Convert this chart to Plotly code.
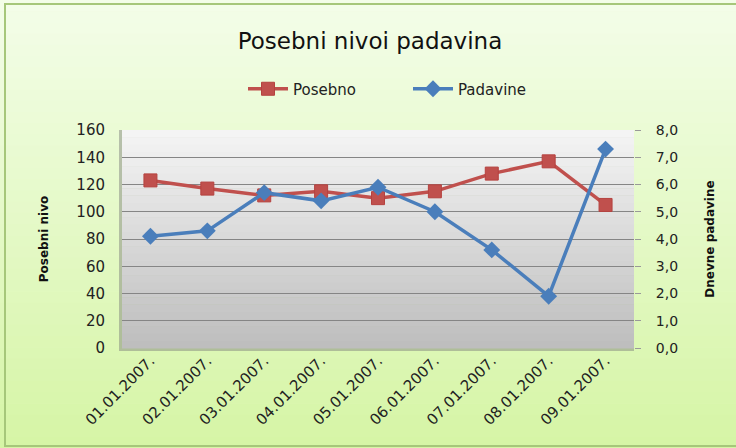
import plotly.graph_objects as go

dates = ["01.01.2007.", "02.01.2007.", "03.01.2007.", "04.01.2007.", "05.01.2007.",
         "06.01.2007.", "07.01.2007.", "08.01.2007.", "09.01.2007."]
posebno = [123, 117, 112, 115, 110, 115, 128, 137, 105]
padavine = [4.1, 4.3, 5.7, 5.4, 5.9, 5.0, 3.6, 1.9, 7.3]
left_ticks = [0, 20, 40, 60, 80, 100, 120, 140, 160]
right_ticks = [0, 1, 2, 3, 4, 5, 6, 7, 8]
right_tick_text = ["0,0", "1,0", "2,0", "3,0", "4,0", "5,0", "6,0", "7,0", "8,0"]

W, H = 736, 448
L, R, T, B = 122, 102, 130, 100
PW, PH = W - L - R, H - T - B

def px2x(px):
    return (px - L) / PW

def px2y(py):
    return (H - B - py) / PH

def mix(c1, c2, t):
    return "rgb(%d,%d,%d)" % tuple(round(a + (b - a) * t) for a, b in zip(c1, c2))

shapes = []
# page background gradient
n = 40
top_c, bot_c = (243, 253, 232), (214, 245, 166)
for i in range(n):
    y0 = i * H / n
    y1 = (i + 1) * H / n + 0.5
    shapes.append(dict(type="rect", xref="paper", yref="paper", layer="below",
                       x0=px2x(0), x1=px2x(W), y0=px2y(y1), y1=px2y(y0),
                       line=dict(width=0), fillcolor=mix(top_c, bot_c, i / (n - 1))))
# chart border
shapes.append(dict(type="rect", xref="paper", yref="paper", layer="below",
                   x0=px2x(5), x1=px2x(W + 5), y0=px2y(446), y1=px2y(4),
                   line=dict(width=2, color="#a6c77a"), fillcolor="rgba(0,0,0,0)"))
# plot area shadow
shapes.append(dict(type="rect", xref="paper", yref="paper", layer="below",
                   x0=px2x(L - 3), x1=px2x(L + PW), y0=px2y(H - B + 3), y1=px2y(T),
                   line=dict(width=0), fillcolor="rgba(120,120,120,0.45)"))
# plot area gradient
m = 30
pt, pb = (244, 244, 244), (190, 190, 190)
for i in range(m):
    shapes.append(dict(type="rect", xref="paper", yref="paper", layer="below",
                       x0=0, x1=1, y0=1 - (i + 1) / m - 0.002, y1=1 - i / m,
                       line=dict(width=0), fillcolor=mix(pt, pb, i / (m - 1))))

fig = go.Figure()
fig.add_trace(go.Scatter(
    x=dates, y=posebno, name="Posebno", mode="lines+markers",
    line=dict(color="#c0504d", width=3.5),
    marker=dict(symbol="square", size=13, color="#c0504d",
                line=dict(color="#b5423f", width=1)),
    yaxis="y"))
fig.add_trace(go.Scatter(
    x=dates, y=padavine, name="Padavine", mode="lines+markers",
    line=dict(color="#4a7ebb", width=3.5),
    marker=dict(symbol="diamond", size=13, color="#4a7ebb"),
    yaxis="y2"))

font_main = "DejaVu Sans"
fig.update_layout(
    width=W, height=H,
    margin=dict(l=L, r=R, t=T, b=B, autoexpand=False),
    paper_bgcolor="rgb(236,250,212)",
    plot_bgcolor="rgba(0,0,0,0)",
    shapes=shapes,
    title=dict(text="Posebni nivoi padavina", x=px2x(370), xref="paper", xanchor="center",
               y=1 - 41 / H, yanchor="middle",
               font=dict(family="DejaVu Sans", size=23, color="#111111")),
    legend=dict(orientation="h", x=px2x(243), xanchor="left",
                y=px2y(89), yanchor="middle",
                font=dict(family="DejaVu Sans", size=15, color="#222222"),
                bgcolor="rgba(0,0,0,0)", itemwidth=40, tracegroupgap=0,
                entrywidth=110, entrywidthmode="pixels"),
    xaxis=dict(type="category", range=[-0.5, 8.5], tickangle=-45,
               tickfont=dict(family=font_main, size=15, color="#222222"),
               showgrid=False, showline=False, zeroline=False,
               ticks="", fixedrange=True),
    yaxis=dict(range=[0, 160], tickvals=left_ticks,
               tickfont=dict(family=font_main, size=15, color="#222222"),
               showgrid=True, gridcolor="#858585", gridwidth=1,
               zeroline=False, showline=False, ticks="", ticklabelstandoff=16,
               title=dict(text="Posebni nivo", standoff=25,
                          font=dict(family="DejaVu Sans", size=12, color="#111111",
                                    weight="bold"))),
    yaxis2=dict(range=[0, 8], tickvals=right_ticks, ticktext=right_tick_text,
                overlaying="y", side="right", showgrid=False, zeroline=False,
                showline=False, ticks="outside", ticklen=6, tickcolor="#999999",
                ticklabelstandoff=12,
                tickfont=dict(family=font_main, size=14, color="#222222"),
                title=dict(text="Dnevne padavine", standoff=28,
                           font=dict(family="DejaVu Sans", size=12, color="#111111",
                                     weight="bold"))),
)

fig.write_html("out.html", config={"displayModeBar": False},
               post_script="document.body.style.margin='0';")
